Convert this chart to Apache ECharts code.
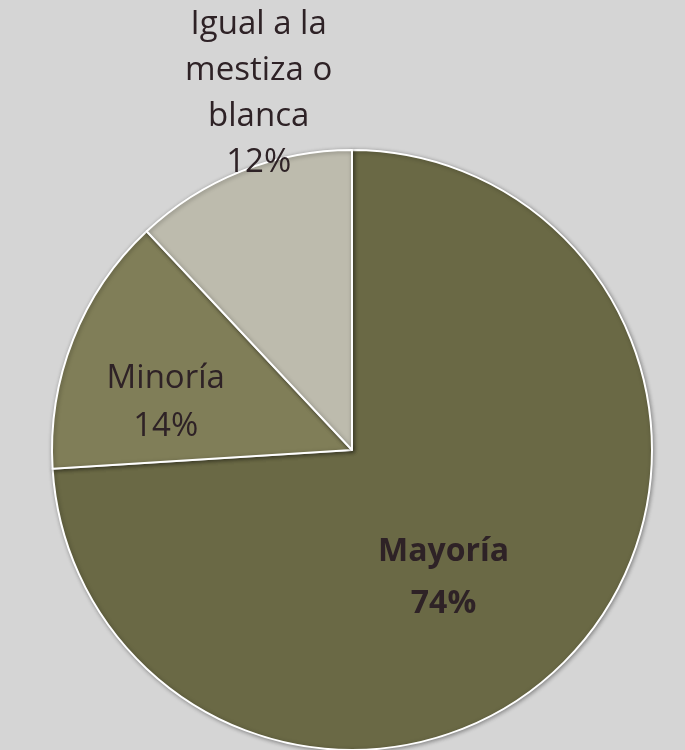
<!DOCTYPE html>
<html><head><meta charset="utf-8">
<script src="https://cdn.jsdelivr.net/npm/echarts@6/dist/echarts.min.js"></script>
<style>
html,body{margin:0;padding:0;background:#d5d5d5;}
#c{width:685px;height:750px;}
</style></head>
<body><div id="c"></div>
<script>
const categories = ['Mayoría', 'Minoría', 'Igual a la\nmestiza o\nblanca'];
const values = [74, 14, 12];
const colors = ['#6a6945', '#807e58', '#bdbbad'];
const offsets = [[-20, 23], [-44, 9], [-37, -214]];
const weights = ['bold', 'normal', 'normal'];
const sizes = [32, 33, 33];
const lineHeights = [52, 48, 46];

const chart = echarts.init(document.getElementById('c'), null, {renderer: 'canvas'});
chart.setOption({
  backgroundColor: '#d5d5d5',
  animation: false,
  series: [{
    type: 'pie',
    center: [352, 450],
    radius: [0, 300],
    startAngle: 90,
    clockwise: true,
    avoidLabelOverlap: false,
    itemStyle: {borderColor: '#ffffff', borderWidth: 2, shadowBlur: 4, shadowColor: 'rgba(0,0,0,0.35)', shadowOffsetX: 1, shadowOffsetY: 1},
    labelLine: {show: false},
    data: categories.map((n, i) => ({
      name: n, value: values[i],
      itemStyle: {color: colors[i]},
      label: {
        show: true, position: 'inside',
        offset: offsets[i],
        formatter: '{b}\n{c}%',
        fontFamily: 'Open Sans', fontSize: sizes[i], fontWeight: weights[i],
        color: '#2e2226', lineHeight: lineHeights[i]
      }
    }))
  }]
});
</script></body></html>
